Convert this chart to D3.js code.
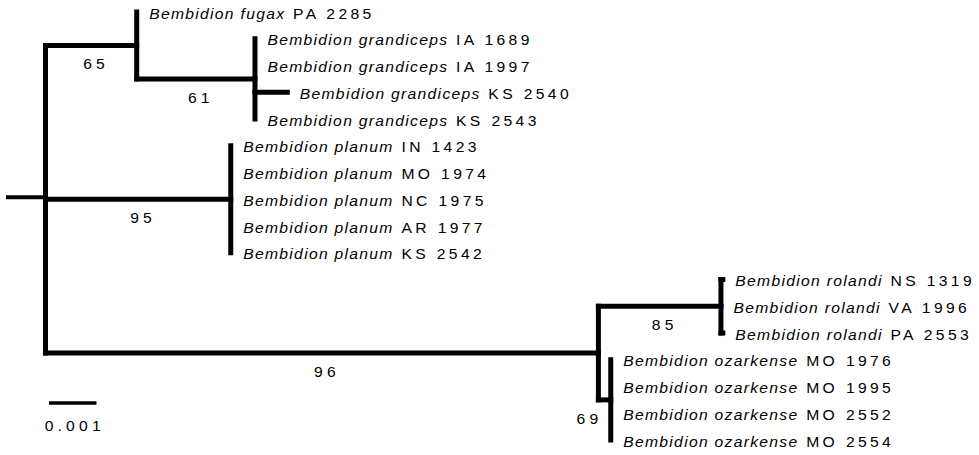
<!DOCTYPE html>
<html>
<head>
<meta charset="utf-8">
<script src="https://cdn.jsdelivr.net/npm/d3@7"></script>
<style>
  html, body { margin: 0; padding: 0; background: #fff; }
  svg { display: block; }
  text { font-family: "Liberation Sans", Arial, Helvetica, sans-serif; fill: #000; }
</style>
</head>
<body>
<svg id="chart" width="979" height="455"></svg>
<script>
// ---- data ----
const genus = "Bembidion";
const leafSpecies = ["fugax","grandiceps","grandiceps","grandiceps","grandiceps",
  "planum","planum","planum","planum","planum",
  "rolandi","rolandi","rolandi",
  "ozarkense","ozarkense","ozarkense","ozarkense"];
const leafCodes = ["PA 2285","IA 1689","IA 1997","KS 2540","KS 2543",
  "IN 1423","MO 1974","NC 1975","AR 1977","KS 2542",
  "NS 1319","VA 1996","PA 2553",
  "MO 1976","MO 1995","MO 2552","MO 2554"];
const leafParents = ["A","G","G","G","G","P","P","P","P","P","R","R","R","O","O","O","O"];
const leafLengths = [0,0,0,0.00068,0, 0,0,0,0,0, 0.00004,0,0.00004, 0,0,0,0];

const cladeIds      = ["root","A","G","P","RO","R","O"];
const cladeParents  = ["",    "root","A","root","root","RO","RO"];
const cladeLengths  = [0.00083, 0.00192, 0.00249, 0.0039, 0.01164, 0.00258, 0.00026];
const cladeSupport  = [null, 65, 61, 95, 96, 85, 69];

const scaleBarValue = 0.001;
const scaleBarLabel = "0.001";

// ---- build tree ----
const rows = [];
cladeIds.forEach((id, i) => rows.push({id, parent: cladeParents[i] || null, len: cladeLengths[i], support: cladeSupport[i]}));
leafSpecies.forEach((sp, i) => rows.push({id: "leaf" + i, parent: leafParents[i], len: leafLengths[i],
  species: sp, code: leafCodes[i], order: i}));

const root = d3.stratify().id(d => d.id).parentId(d => d.parent)(rows);

const leafIds = leafSpecies.map((_, i) => "leaf" + i);
const yScale = d3.scalePoint().domain(leafIds).range([12, 440]);
const xScale = d3.scaleLinear().domain([0, scaleBarValue]).range([45.5, 93]);

root.eachAfter(n => {
  if (n.children) {
    n.children.sort((a, b) => a.order - b.order);
    n.order = n.children[0].order;
    n.py = (n.children[0].py + n.children[n.children.length - 1].py) / 2;
  } else {
    n.order = n.data.order;
    n.py = yScale(n.id);
  }
});
root.eachBefore(n => { n.dist = n.parent ? n.parent.dist + n.data.len : 0; n.px = xScale(n.dist); });

// ---- draw ----
const svg = d3.select("#chart");
svg.append("rect").attr("width", 979).attr("height", 455).attr("fill", "#fff");
const g = svg.append("g");
const SX = 1.12; // horizontal text stretch

// root stub
g.append("line")
  .attr("x1", xScale(-root.data.len)).attr("x2", root.px)
  .attr("y1", root.py - 2).attr("y2", root.py - 2)
  .attr("stroke", "#000").attr("stroke-width", 4);

const nodes = root.descendants();

// horizontal branches
g.selectAll("line.h").data(nodes.filter(n => n.parent && n.px - n.parent.px > 0.01))
  .join("line").attr("class", "h")
  .attr("x1", d => d.parent.px).attr("x2", d => d.px)
  .attr("y1", d => d.py).attr("y2", d => d.py)
  .attr("stroke", "#000").attr("stroke-width", 5).attr("stroke-linecap", "square");

// vertical connectors
g.selectAll("line.v").data(nodes.filter(n => n.children))
  .join("line").attr("class", "v")
  .attr("x1", d => d.px).attr("x2", d => d.px)
  .attr("y1", d => d.children[0].py).attr("y2", d => d.children[d.children.length - 1].py)
  .attr("stroke", "#000").attr("stroke-width", 5).attr("stroke-linecap", "square");

// leaf labels
const lab = g.selectAll("text.leaf").data(root.leaves())
  .join("text").attr("class", "leaf")
  .attr("transform", d => `translate(${d.px + 12.5},${d.py + 6.5}) scale(${SX},1)`)
  .attr("font-size", 14);
lab.append("tspan").attr("font-style", "italic").attr("letter-spacing", 1.15)
  .text(d => genus + " " + d.data.species);
lab.append("tspan").attr("letter-spacing", 3).text(d => "\u00a0" + d.data.code);

// support values
g.selectAll("text.sup").data(nodes.filter(n => n.parent && n.data.support != null))
  .join("text").attr("class", "sup")
  .attr("font-size", 14).attr("letter-spacing", 3.75)
  .attr("transform", d => {
    const len = d.px - d.parent.px;
    const x = len < 30 ? d.parent.px + 4 : (d.parent.px + d.px) / 2 + 5;
    return `translate(${x},${d.py + 24}) scale(${SX},1)`;
  })
  .attr("text-anchor", d => (d.px - d.parent.px) < 30 ? "end" : "middle")
  .text(d => d.data.support);

// scale bar
const sbx = 49, sby = 403;
const sbLen = xScale(scaleBarValue) - xScale(0);
g.append("line").attr("x1", sbx).attr("x2", sbx + sbLen).attr("y1", sby).attr("y2", sby)
  .attr("stroke", "#000").attr("stroke-width", 3.5);
g.append("text")
  .attr("transform", `translate(${sbx + sbLen / 2 + 2},${sby + 27.5}) scale(${SX},1)`)
  .attr("text-anchor", "middle").attr("font-size", 14).attr("letter-spacing", 3.75)
  .text(scaleBarLabel);
</script>
</body>
</html>
